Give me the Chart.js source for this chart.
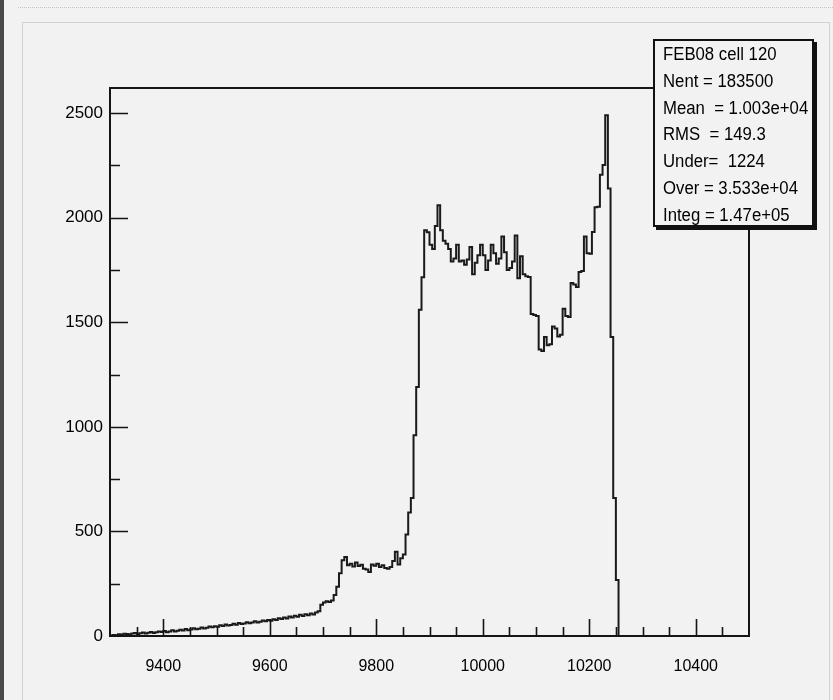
<!DOCTYPE html>
<html><head><meta charset="utf-8">
<script src="https://cdn.jsdelivr.net/npm/chart.js@4.4.1/dist/chart.umd.min.js"></script>
<style>
html,body{margin:0;padding:0;background:#f2f2f2;width:833px;height:700px;overflow:hidden;}
#wrap{position:relative;width:833px;height:700px;}
#c{position:absolute;left:0;top:0;}
.leftbar{position:absolute;left:0;top:0;width:4px;height:700px;background:#4a4a4a;}
.topline{position:absolute;left:18px;top:7px;width:815px;border-top:1px dotted #c4c4c4;}
.pad{position:absolute;left:22px;top:22px;width:806px;height:690px;border:1px solid #d2d2d2;}
#stats{position:absolute;left:653px;top:39px;width:161px;height:188px;box-sizing:border-box;border:2px solid #111;background:#f2f2f2;box-shadow:3px 3px 0 #111;}
#statsText{position:absolute;left:8px;top:0;font-family:'Liberation Sans',Arial,sans-serif;font-size:18px;color:#000;line-height:26.8px;white-space:pre;transform:scaleX(0.93);transform-origin:0 0;}
</style></head>
<body>
<div id="wrap">
<div class="leftbar"></div>
<div class="topline"></div>
<div class="pad"></div>
<canvas id="c" width="833" height="700"></canvas>
<div id="stats"><div id="statsText"></div></div>
</div>
<script>
// ---- data ----
const binLow = 9300;
const binWidth = 5;
const counts = [
  // 9300 - 9395
  0, 2, 5, 4, 8, 6, 11, 9, 7, 12, 14, 10, 13, 17, 12, 15, 19, 14, 18, 22,
  // 9400 - 9495
  19, 24, 18, 22, 27, 21, 25, 30, 26, 33, 28, 31, 37, 32, 35, 41, 36, 39, 45, 42,
  // 9500 - 9595
  47, 44, 51, 48, 55, 50, 53, 59, 54, 62, 57, 60, 66, 61, 64, 70, 65, 68, 74, 71,
  // 9600 - 9695
  76, 73, 80, 77, 85, 81, 88, 84, 93, 89, 97, 92, 101, 96, 104, 99, 108, 103, 112, 118,
  // 9700 - 9795
  150, 160, 166, 162, 170, 196, 236, 300, 362, 378, 338, 346, 332, 352, 335, 341, 322, 318, 306, 342,
  // 9800 - 9895
  336, 345, 330, 338, 325, 322, 330, 358, 403, 342, 372, 390, 485, 590, 660, 960, 1190, 1560, 1715, 1940,
  // 9900 - 9995
  1930, 1870, 1850, 1960, 2060, 1940, 1890, 1875, 1850, 1790, 1805, 1870, 1790, 1795, 1775, 1800, 1860, 1730, 1785, 1820,
  // 10000 - 10095
  1870, 1820, 1750, 1795, 1870, 1830, 1780, 1805, 1910, 1835, 1750, 1760, 1790, 1915, 1710, 1815, 1730, 1720, 1716, 1540,
  // 10100 - 10195
  1535, 1530, 1370, 1362, 1430, 1390, 1395, 1480, 1470, 1432, 1440, 1565, 1530, 1525, 1688, 1680, 1668, 1740, 1745, 1910,
  // 10200 - 10295
  1830, 1828, 1932, 2050, 2052, 2205, 2252, 2490, 2140, 1430, 660, 268, 0, 0, 0, 0, 0, 0, 0, 0,
  // 10300 - 10395
  0, 0, 0, 0, 0, 0, 0, 0, 0, 0, 0, 0, 0, 0, 0, 0, 0, 0, 0, 0,
  // 10400 - 10495
  0, 0, 0, 0, 0, 0, 0, 0, 0, 0, 0, 0, 0, 0, 0, 0, 0, 0, 0, 0
];
const xTickLabels = [9400, 9600, 9800, 10000, 10200, 10400];
const yTickLabels = [0, 500, 1000, 1500, 2000, 2500];
const xMinorStep = 50;
const yMinorStep = 250;
const xRange = [9300, 10500];
const yRange = [0, 2620];
const statsTitle = 'FEB08 cell 120';
const statsLines = [
  'Nent = 183500',
  'Mean  = 1.003e+04',
  'RMS  = 149.3',
  'Under=  1224',
  'Over = 3.533e+04',
  'Integ = 1.47e+05'
];

document.getElementById('statsText').textContent = [statsTitle].concat(statsLines).join('\n');

const points = counts.map((c, i) => ({x: binLow + i * binWidth, y: c}));
points.push({x: binLow + counts.length * binWidth, y: counts[counts.length - 1]});

const frameTicks = {
  id: 'frameTicks',
  afterDatasetsDraw(chart) {
    const {ctx, chartArea: a, scales: {x, y}} = chart;
    ctx.save();
    ctx.strokeStyle = '#151515';
    ctx.lineWidth = 1.6;
    ctx.beginPath();
    for (let v = xRange[0] + xMinorStep; v < xRange[1]; v += xMinorStep) {
      const px = Math.round(x.getPixelForValue(v)) + 0.5;
      const len = xTickLabels.includes(v) ? 17 : 9;
      ctx.moveTo(px, a.bottom);
      ctx.lineTo(px, a.bottom - len);
    }
    for (let v = yRange[0] + yMinorStep; v < yRange[1]; v += yMinorStep) {
      const py = Math.round(y.getPixelForValue(v)) + 0.5;
      const len = yTickLabels.includes(v) ? 18 : 10;
      ctx.moveTo(a.left, py);
      ctx.lineTo(a.left + len, py);
    }
    ctx.stroke();
    ctx.lineWidth = 2;
    ctx.strokeRect(a.left, a.top, a.right - a.left, a.bottom - a.top);
    ctx.restore();
  }
};

const fmt = v => String(v);

new Chart(document.getElementById('c').getContext('2d'), {
  type: 'line',
  data: {
    datasets: [{
      data: points,
      stepped: 'after',
      borderColor: '#1a1a1a',
      borderWidth: 2,
      pointRadius: 0,
      fill: false,
      tension: 0
    }]
  },
  options: {
    responsive: false,
    animation: false,
    events: [],
    layout: {padding: {top: 88, right: 84, left: 0, bottom: 0}},
    plugins: {legend: {display: false}, tooltip: {enabled: false}},
    scales: {
      x: {
        type: 'linear', min: xRange[0], max: xRange[1],
        grid: {display: false, drawTicks: false}, border: {display: false},
        ticks: {color: '#000', font: {family: "'Liberation Sans', Arial, sans-serif", size: 16}, padding: 21, maxRotation: 0, autoSkip: false, callback: fmt},
        afterBuildTicks: s => { s.ticks = xTickLabels.map(v => ({value: v})); },
        afterFit: s => { s.height = 64; }
      },
      y: {
        type: 'linear', min: yRange[0], max: yRange[1],
        grid: {display: false, drawTicks: false}, border: {display: false},
        ticks: {color: '#000', font: {family: "'Liberation Sans', Arial, sans-serif", size: 17}, padding: 7, autoSkip: false, callback: fmt},
        afterBuildTicks: s => { s.ticks = yTickLabels.map(v => ({value: v})); },
        afterFit: s => { s.width = 110; }
      }
    }
  },
  plugins: [frameTicks]
});
</script>
</body></html>
